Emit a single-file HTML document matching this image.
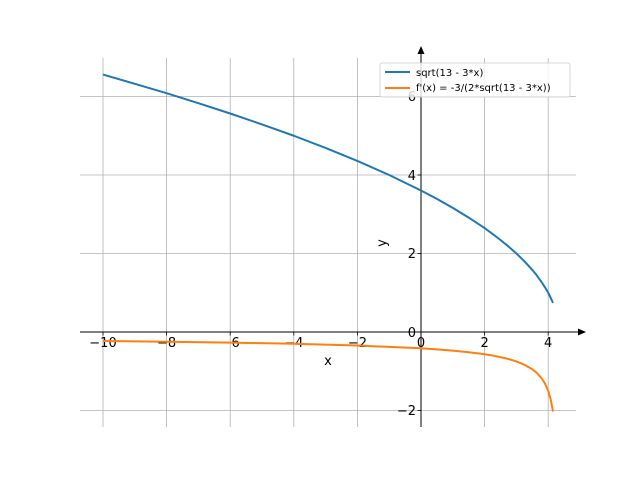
<!DOCTYPE html>
<html><head><style>
body{margin:0;background:#fff}
svg text{font-family:"DejaVu Sans","Liberation Sans",sans-serif}
</style></head><body>
<svg width="640" height="480" xmlns="http://www.w3.org/2000/svg">
<rect width="640" height="480" fill="#fff"/>
<g stroke="#b0b0b0" stroke-width="0.8">
<line x1="103" y1="58" x2="103" y2="427"/>
<line x1="166.6" y1="58" x2="166.6" y2="427"/>
<line x1="230.2" y1="58" x2="230.2" y2="427"/>
<line x1="293.8" y1="58" x2="293.8" y2="427"/>
<line x1="357.4" y1="58" x2="357.4" y2="427"/>
<line x1="421" y1="58" x2="421" y2="427"/>
<line x1="484.6" y1="58" x2="484.6" y2="427"/>
<line x1="548.2" y1="58" x2="548.2" y2="427"/>
<line x1="80" y1="96.5" x2="576" y2="96.5"/>
<line x1="80" y1="175" x2="576" y2="175"/>
<line x1="80" y1="253.5" x2="576" y2="253.5"/>
<line x1="80" y1="410.5" x2="576" y2="410.5"/>
</g>
<g stroke="#000" stroke-width="1">
<line x1="80" y1="332" x2="580" y2="332"/>
<line x1="421" y1="427" x2="421" y2="52"/>
</g>
<polygon points="586,332 578,328.5 578,335.5" fill="#000"/>
<polygon points="421,46 417.5,54 424.5,54" fill="#000"/>
<g stroke="#000" stroke-width="0.8">
<line x1="103" y1="332" x2="103" y2="335.5"/><line x1="166.6" y1="332" x2="166.6" y2="335.5"/>
<line x1="230.2" y1="332" x2="230.2" y2="335.5"/><line x1="293.8" y1="332" x2="293.8" y2="335.5"/>
<line x1="357.4" y1="332" x2="357.4" y2="335.5"/><line x1="421" y1="332" x2="421" y2="335.5"/>
<line x1="484.6" y1="332" x2="484.6" y2="335.5"/><line x1="548.2" y1="332" x2="548.2" y2="335.5"/>
<line x1="417.5" y1="96.5" x2="421" y2="96.5"/><line x1="417.5" y1="175" x2="421" y2="175"/>
<line x1="417.5" y1="253.5" x2="421" y2="253.5"/><line x1="417.5" y1="332" x2="421" y2="332"/>
<line x1="417.5" y1="410.5" x2="421" y2="410.5"/>
</g>
<g font-size="13" fill="#000" text-anchor="middle">
<text x="103" y="347">−10</text><text x="166.6" y="347">−8</text><text x="230.2" y="347">−6</text>
<text x="293.8" y="347">−4</text><text x="357.4" y="347">−2</text><text x="421" y="347">0</text>
<text x="484.6" y="347">2</text><text x="548.2" y="347">4</text>
</g>
<g font-size="13" fill="#000" text-anchor="end">
<text x="416" y="101">6</text><text x="416" y="180">4</text><text x="416" y="258">2</text>
<text x="416" y="337">0</text><text x="416" y="415">−2</text>
</g>
<text x="328" y="365" font-size="13" text-anchor="middle">x</text>
<text x="0" y="0" font-size="13" text-anchor="middle" transform="translate(386,243) rotate(-90)">y</text>
<polyline fill="none" stroke="#1f77b4" stroke-width="2" stroke-linejoin="round" points="103,74.6 134.8,83.8 166.6,93.2 198.4,103.2 230.2,113.5 262,124.4 293.8,135.75 325.6,147.9 357.4,160.9 389.2,175 421,190.5 436.9,198.9 452.8,207.9 468.7,217.6 484.6,228.1 492.55,233.9 500.5,240 508.45,246.5 516.4,253.5 524.35,261.2 532.3,269.9 537.1,275.8 541.8,282.4 545,287.3 548.2,292.75 550.7,297.8 553,302.9"/>
<polyline fill="none" stroke="#ff7f0e" stroke-width="2" stroke-linejoin="round" points="103,341 166.6,341.7 230.2,342.6 293.8,343.8 357.4,345.5 421,348.3 436.9,349.4 452.8,350.6 468.7,352.2 484.6,354.3 492.55,355.55 500.5,357.1 508.45,359 516.4,361.4 524.35,364.7 532.3,369.2 537.1,373.1 541.8,378.5 545,383.6 548.2,390.9 550.7,399.5 553,411.4"/>
<rect x="380" y="63" width="190" height="34" fill="#fff" fill-opacity="0.8" stroke="#ccc" stroke-width="0.8" rx="2"/>
<line x1="385" y1="72" x2="410" y2="72" stroke="#1f77b4" stroke-width="2"/>
<line x1="385" y1="88" x2="410" y2="88" stroke="#ff7f0e" stroke-width="2"/>
<text x="416" y="76" font-size="10">sqrt(13 - 3*x)</text>
<text x="416" y="91" font-size="10">f'(x) = -3/(2*sqrt(13 - 3*x))</text>
</svg>
</body></html>
